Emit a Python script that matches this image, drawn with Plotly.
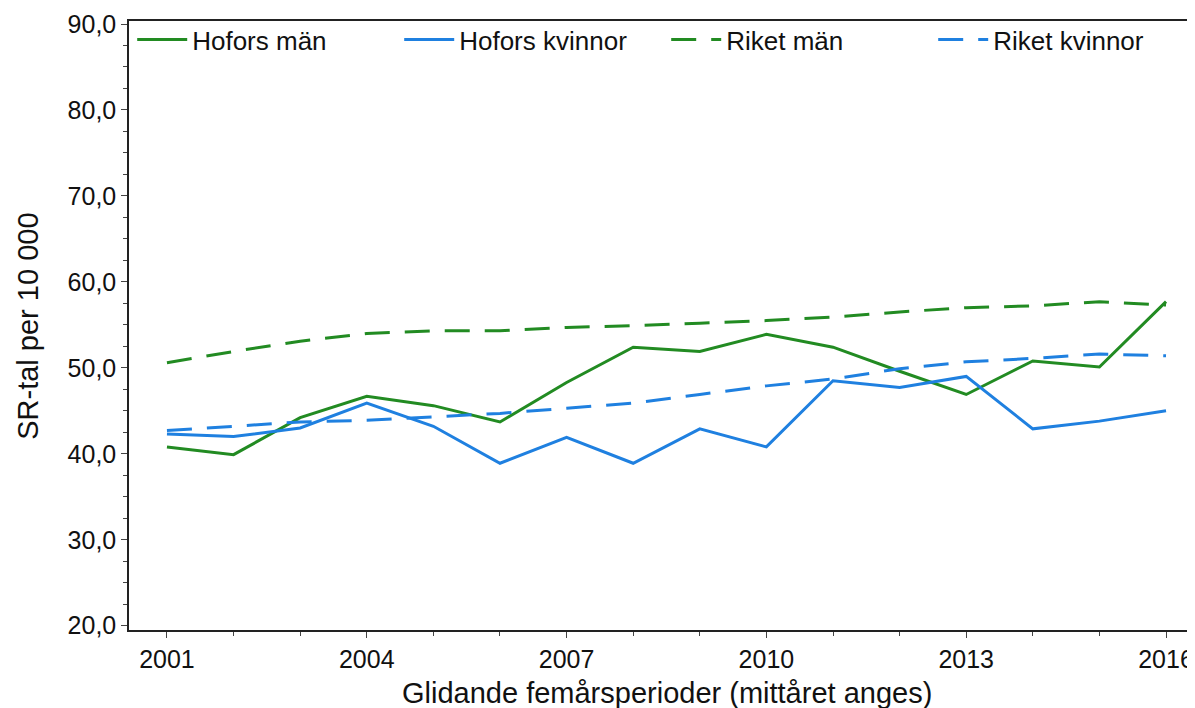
import plotly.graph_objects as go

years = list(range(2001, 2017))
hofors_man = [40.8, 39.9, 44.2, 46.7, 45.6, 43.7, 48.3, 52.4, 51.9, 53.9, 52.4, 49.6, 46.9, 50.8, 50.1, 57.7]
hofors_kvinnor = [42.3, 42.0, 43.0, 45.9, 43.2, 38.9, 41.9, 38.9, 42.9, 40.8, 48.5, 47.7, 49.0, 42.9, 43.8, 45.0]
riket_man = [50.6, 51.9, 53.1, 54.0, 54.3, 54.3, 54.7, 54.9, 55.2, 55.5, 55.9, 56.5, 57.0, 57.2, 57.7, 57.3]
riket_kvinnor = [42.7, 43.2, 43.7, 43.9, 44.3, 44.7, 45.3, 45.9, 46.9, 47.9, 48.7, 49.9, 50.7, 51.1, 51.6, 51.4]
x_ticks = [2001, 2004, 2007, 2010, 2013, 2016]
y_ticks = [20, 30, 40, 50, 60, 70, 80, 90]
y_ticklabels = ["20,0", "30,0", "40,0", "50,0", "60,0", "70,0", "80,0", "90,0"]
x_title = "Glidande femårsperioder (mittåret anges)"
y_title = "SR-tal per 10 000"

GREEN = "#228B22"
BLUE = "#1F80E0"
FONT = "Liberation Sans, Arial, sans-serif"

fig = go.Figure()
fig.add_trace(go.Scatter(x=years, y=hofors_man, mode="lines", name="Hofors män",
                         line=dict(color=GREEN, width=3)))
fig.add_trace(go.Scatter(x=years, y=hofors_kvinnor, mode="lines", name="Hofors kvinnor",
                         line=dict(color=BLUE, width=3)))
fig.add_trace(go.Scatter(x=years, y=riket_man, mode="lines", name="Riket män",
                         line=dict(color=GREEN, width=3, dash="25px,15px")))
fig.add_trace(go.Scatter(x=years, y=riket_kvinnor, mode="lines", name="Riket kvinnor",
                         line=dict(color=BLUE, width=3, dash="25px,15px")))

fig.update_layout(
    width=1187, height=700,
    margin=dict(l=121, r=0, t=13, b=78, autoexpand=False),
    paper_bgcolor="white", plot_bgcolor="white",
    font=dict(family=FONT, size=25, color="#111111"),
    showlegend=True,
    legend=dict(orientation="h", x=0.003, y=1.008, xanchor="left", yanchor="top",
                entrywidth=202, entrywidthmode="pixels", itemwidth=50,
                font=dict(size=26), bgcolor="rgba(0,0,0,0)",
                tracegroupgap=0),
    xaxis=dict(range=[2000.43, 2016.435], tickmode="array", tickvals=x_ticks,
               ticktext=[str(v) for v in x_ticks], automargin=False,
               showgrid=False, zeroline=False, showline=True, linecolor="#222222",
               linewidth=1.5, mirror=True,
               ticks="outside", ticklen=6, tickcolor="#444444",
               minor=dict(dtick=1, ticks="outside", ticklen=4, tickcolor="#444444"),
               tickfont=dict(size=25)),
    yaxis=dict(range=[19.5, 90.35], tickmode="array", tickvals=y_ticks, ticktext=y_ticklabels,
               automargin=False,
               showgrid=False, zeroline=False, showline=True, linecolor="#222222",
               linewidth=1.5, mirror=False,
               ticks="outside", ticklen=6, tickcolor="#444444",
               minor=dict(dtick=2.5, ticks="outside", ticklen=4, tickcolor="#444444"),
               tickfont=dict(size=25)),
    annotations=[
        dict(text=x_title, xref="paper", yref="paper", x=0.505, y=-0.1034,
             xanchor="center", yanchor="middle", showarrow=False, font=dict(size=29)),
        dict(text=y_title, xref="paper", yref="paper", x=-0.0947, y=0.498,
             xanchor="center", yanchor="middle", showarrow=False, textangle=-90,
             font=dict(size=29)),
    ],
)

fig.write_html("out.html")
